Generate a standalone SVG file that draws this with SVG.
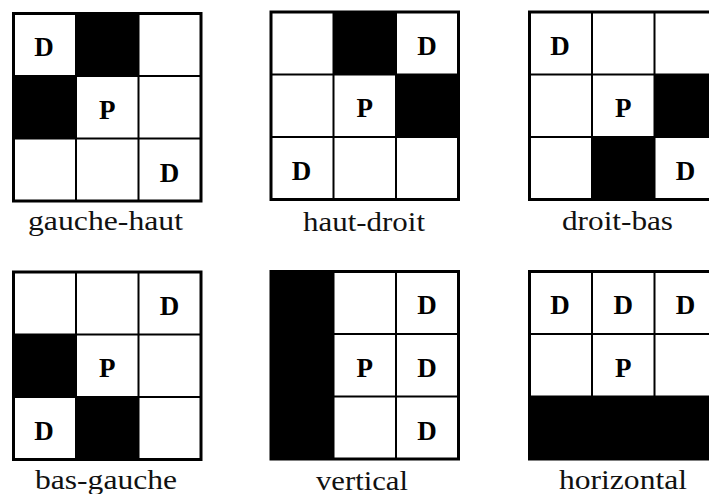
<svg xmlns="http://www.w3.org/2000/svg" width="709" height="494" viewBox="0 0 709 494">
<style>
.bg{fill:#fff}
.blk{fill:#000}
.in{stroke:#000;stroke-width:2;fill:none}
.out{stroke:#000;stroke-width:3;fill:none}
.ltr{font-weight:bold;font-size:27px;text-anchor:middle;fill:#000}
.lbl{font-size:28px;fill:#111}
</style>
<rect width="709" height="494" fill="#fff"/>
<g id="connectors"/>
<g font-family="Liberation Serif, Times New Roman, Times, serif">
<g id="gauche-haut" transform="translate(13.5,13.5)">
  <rect class="blk" x="62.5" y="0" width="62.5" height="62.5"/>
  <rect class="blk" x="0" y="62.5" width="62.5" height="62.5"/>
  <path class="in" d="M62.5 0V187.5M125 0V187.5M0 62.5H187.5M0 125H187.5"/>
  <rect class="out" width="187.5" height="187.5"/>
  <text class="ltr" x="30.5" y="42.5">D</text>
  <text class="ltr" x="93.75" y="105">P</text>
  <text class="ltr" x="156" y="168">D</text>
</g>
<text class="lbl" x="28" y="230" textLength="155" lengthAdjust="spacingAndGlyphs">gauche-haut</text>

<g id="haut-droit" transform="translate(271,12)">
  <rect class="blk" x="62.5" y="0" width="62.5" height="62.5"/>
  <rect class="blk" x="125" y="62.5" width="62.5" height="62.5"/>
  <path class="in" d="M62.5 0V187.5M125 0V187.5M0 62.5H187.5M0 125H187.5"/>
  <rect class="out" width="187.5" height="187.5"/>
  <text class="ltr" x="156" y="42.5">D</text>
  <text class="ltr" x="93.75" y="105">P</text>
  <text class="ltr" x="30.5" y="168">D</text>
</g>
<text class="lbl" x="303" y="230.5" textLength="122" lengthAdjust="spacingAndGlyphs">haut-droit</text>

<g id="droit-bas" transform="translate(529.5,12)">
  <rect class="blk" x="125" y="62.5" width="62.5" height="62.5"/>
  <rect class="blk" x="62.5" y="125" width="62.5" height="62.5"/>
  <path class="in" d="M62.5 0V187.5M125 0V187.5M0 62.5H187.5M0 125H187.5"/>
  <rect class="out" width="187.5" height="187.5"/>
  <text class="ltr" x="30.5" y="42.5">D</text>
  <text class="ltr" x="93.75" y="105">P</text>
  <text class="ltr" x="156" y="168">D</text>
</g>
<text class="lbl" x="562" y="230" textLength="111" lengthAdjust="spacingAndGlyphs">droit-bas</text>

<g id="bas-gauche" transform="translate(13.5,272)">
  <rect class="blk" x="0" y="62.5" width="62.5" height="62.5"/>
  <rect class="blk" x="62.5" y="125" width="62.5" height="62.5"/>
  <path class="in" d="M62.5 0V187.5M125 0V187.5M0 62.5H187.5M0 125H187.5"/>
  <rect class="out" width="187.5" height="187.5"/>
  <text class="ltr" x="156" y="42.5">D</text>
  <text class="ltr" x="93.75" y="105">P</text>
  <text class="ltr" x="30.5" y="168">D</text>
</g>
<text class="lbl" x="35" y="488.5" textLength="142" lengthAdjust="spacingAndGlyphs">bas-gauche</text>

<g id="vertical" transform="translate(271,271.5)">
  <rect class="blk" x="0" y="0" width="62.5" height="187.5"/>
  <path class="in" d="M62.5 0V187.5M125 0V187.5M62.5 62.5H187.5M62.5 125H187.5"/>
  <rect class="out" width="187.5" height="187.5"/>
  <text class="ltr" x="156" y="42.5">D</text>
  <text class="ltr" x="93.75" y="105">P</text>
  <text class="ltr" x="156" y="105">D</text>
  <text class="ltr" x="156" y="168">D</text>
</g>
<text class="lbl" x="316" y="489.5" textLength="92" lengthAdjust="spacingAndGlyphs">vertical</text>

<g id="horizontal" transform="translate(529.5,271.5)">
  <rect class="blk" x="0" y="125" width="187.5" height="62.5"/>
  <path class="in" d="M62.5 0V125M125 0V125M0 62.5H187.5M0 125H187.5"/>
  <rect class="out" width="187.5" height="187.5"/>
  <text class="ltr" x="30.5" y="42.5">D</text>
  <text class="ltr" x="93.75" y="42.5">D</text>
  <text class="ltr" x="156" y="42.5">D</text>
  <text class="ltr" x="93.75" y="105">P</text>
</g>
<text class="lbl" x="559" y="489" textLength="128" lengthAdjust="spacingAndGlyphs">horizontal</text>
</g>
</svg>
